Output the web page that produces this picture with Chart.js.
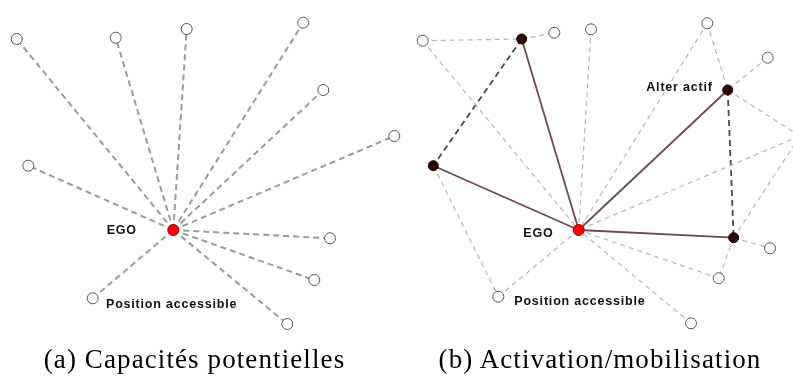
<!DOCTYPE html>
<html>
<head>
<meta charset="utf-8">
<script src="https://cdn.jsdelivr.net/npm/chart.js@4.4.1/dist/chart.umd.min.js"></script>
<style>
  html, body { margin: 0; padding: 0; background: #fff; }
  #wrap { position: relative; width: 793px; height: 376px; overflow: hidden; }
  #c { position: absolute; left: 0; top: 0; }
  .lbl { position: absolute; font-family: "Liberation Sans", Arial, sans-serif; font-weight: bold; font-size: 12.5px; letter-spacing: 0.8px; color: #111; white-space: nowrap; line-height: 1; }
  .cap { position: absolute; font-family: "Liberation Serif", "DejaVu Serif", serif; font-size: 27px; letter-spacing: 1.1px; color: #000; white-space: nowrap; line-height: 1; transform: translateX(-50%); }
</style>
</head>
<body>
<div id="wrap">
  <canvas id="c" width="793" height="376"></canvas>
</div>
<script>
// ---------- Panel (a): Capacités potentielles ----------
const aNodeNames = ["EGO","n1","n2","n3","n4","n5","n6","n7","n8","n9","n10","n11"];
const aNodeX = [173.3, 16.7, 115.7, 186.7, 303.3, 323.3, 394.3, 28.3, 330.0, 314.3, 92.7, 287.3];
const aNodeY = [230.0, 39.0, 37.7, 29.0, 22.7, 90.0, 136.0, 165.7, 238.3, 280.0, 298.3, 324.0];
const aEdgesPotential = [[0,1],[0,2],[0,3],[0,4],[0,5],[0,6],[0,7],[0,8],[0,9],[0,10],[0,11]];

// ---------- Panel (b): Activation/mobilisation ----------
const bNodeNames = ["EGO","A","B","C","D","E","F","G","H","I","J","K","L","M","N"];
const bNodeX = [578.7, 422.7, 521.7, 554.3, 591.0, 707.3, 767.7, 727.7, 800.0, 433.3, 733.7, 770.0, 718.7, 498.3, 691.0];
const bNodeY = [230.0, 40.7, 39.0, 32.7, 29.3, 23.3, 57.7, 90.0, 136.0, 165.7, 237.7, 248.3, 278.3, 296.7, 323.3];
const bActive = ["B","G","I","J"];
const bEdgesActive = [["EGO","B"],["EGO","I"],["EGO","G"],["EGO","J"]];
const bEdgesAlterAlter = [["B","I"],["G","J"]];
const bEdgesPotential = [["A","B"],["B","C"],["A","EGO"],["D","EGO"],["E","EGO"],["E","G"],["F","G"],["G","H"],["H","EGO"],["H","J"],["J","K"],["J","L"],["L","EGO"],["N","EGO"],["I","M"],["M","EGO"]];

// ---------- Text labels ----------
const nodeLabels = [
  {text:"EGO", x:121.7, y:230.0, align:"center"},
  {text:"Position accessible", x:106.0, y:304.0, align:"left"},
  {text:"EGO", x:538.3, y:233.0, align:"center"},
  {text:"Position accessible", x:514.3, y:301.7, align:"left"},
  {text:"Alter actif", x:712.3, y:87.7, align:"right"}
];
const captions = [
  {text:"(a) Capacités potentielles", x:194.5},
  {text:"(b) Activation/mobilisation", x:600}
];

// ---------- Build datasets ----------
const datasets = [];
function pt(xs, ys, i) { return {x: xs[i], y: ys[i]}; }
function edge(p, q, color, width, dash) {
  datasets.push({
    type: 'scatter', data: [p, q], showLine: true, borderColor: color, borderWidth: width,
    borderDash: dash, pointRadius: 0, pointHoverRadius: 0, clip: false, order: 2, fill: false
  });
}
aEdgesPotential.forEach(([i,j]) => edge(pt(aNodeX,aNodeY,i), pt(aNodeX,aNodeY,j), '#9a9a9a', 2, [6,4]));
const bi = n => bNodeNames.indexOf(n);
bEdgesPotential.forEach(([p,q]) => edge(pt(bNodeX,bNodeY,bi(p)), pt(bNodeX,bNodeY,bi(q)), '#b5b5b5', 1.2, [5,4]));
bEdgesAlterAlter.forEach(([p,q]) => edge(pt(bNodeX,bNodeY,bi(p)), pt(bNodeX,bNodeY,bi(q)), '#4a4a4a', 1.8, [6,4]));
bEdgesActive.forEach(([p,q]) => edge(pt(bNodeX,bNodeY,bi(p)), pt(bNodeX,bNodeY,bi(q)), '#6e4b4b', 1.8, []));

// open nodes
const openPts = [];
for (let i = 1; i < aNodeX.length; i++) openPts.push(pt(aNodeX,aNodeY,i));
for (let i = 1; i < bNodeX.length; i++) if (!bActive.includes(bNodeNames[i])) openPts.push(pt(bNodeX,bNodeY,i));
datasets.push({type:'scatter', data: openPts, pointRadius: 5.5, pointBackgroundColor: '#ffffff', pointBorderColor: '#555555', pointBorderWidth: 1, clip: false, order: 0});
// active alters
const actPts = bActive.map(n => pt(bNodeX,bNodeY,bi(n)));
datasets.push({type:'scatter', data: actPts, pointRadius: 5, pointBackgroundColor: '#2a0303', pointBorderColor: '#1a0000', pointBorderWidth: 1, clip: false, order: 0});
// ego nodes
const egoPts = [pt(aNodeX,aNodeY,0), pt(bNodeX,bNodeY,0)];
datasets.push({type:'scatter', data: egoPts, pointRadius: 5.5, pointBackgroundColor: '#ff0000', pointBorderColor: '#b00000', pointBorderWidth: 1, clip: false, order: 0});

const chart = new Chart(document.getElementById('c'), {
  type: 'scatter',
  data: { datasets },
  options: {
    responsive: false, animation: false, events: [],
    layout: { padding: 0, autoPadding: false },
    plugins: { legend: { display: false }, tooltip: { enabled: false } },
    scales: {
      x: { type: 'linear', min: 0, max: 793, display: false },
      y: { type: 'linear', min: 0, max: 376, reverse: true, display: false }
    }
  }
});

// ---------- HTML labels positioned through the chart scales ----------
const wrap = document.getElementById('wrap');
const sx = chart.scales.x, sy = chart.scales.y;
nodeLabels.forEach(l => {
  const d = document.createElement('div');
  d.className = 'lbl';
  d.textContent = l.text;
  wrap.appendChild(d);
  const px = sx.getPixelForValue(l.x), py = sy.getPixelForValue(l.y);
  const w = d.offsetWidth, h = d.offsetHeight;
  let left = px;
  if (l.align === 'center') left = px - w/2;
  if (l.align === 'right') left = px - w;
  d.style.left = left + 'px';
  d.style.top = (py - h/2) + 'px';
});
captions.forEach(c => {
  const d = document.createElement('div');
  d.className = 'cap';
  d.textContent = c.text;
  d.style.left = sx.getPixelForValue(c.x) + 'px';
  d.style.top = '346px';
  wrap.appendChild(d);
});
</script>
</body>
</html>
